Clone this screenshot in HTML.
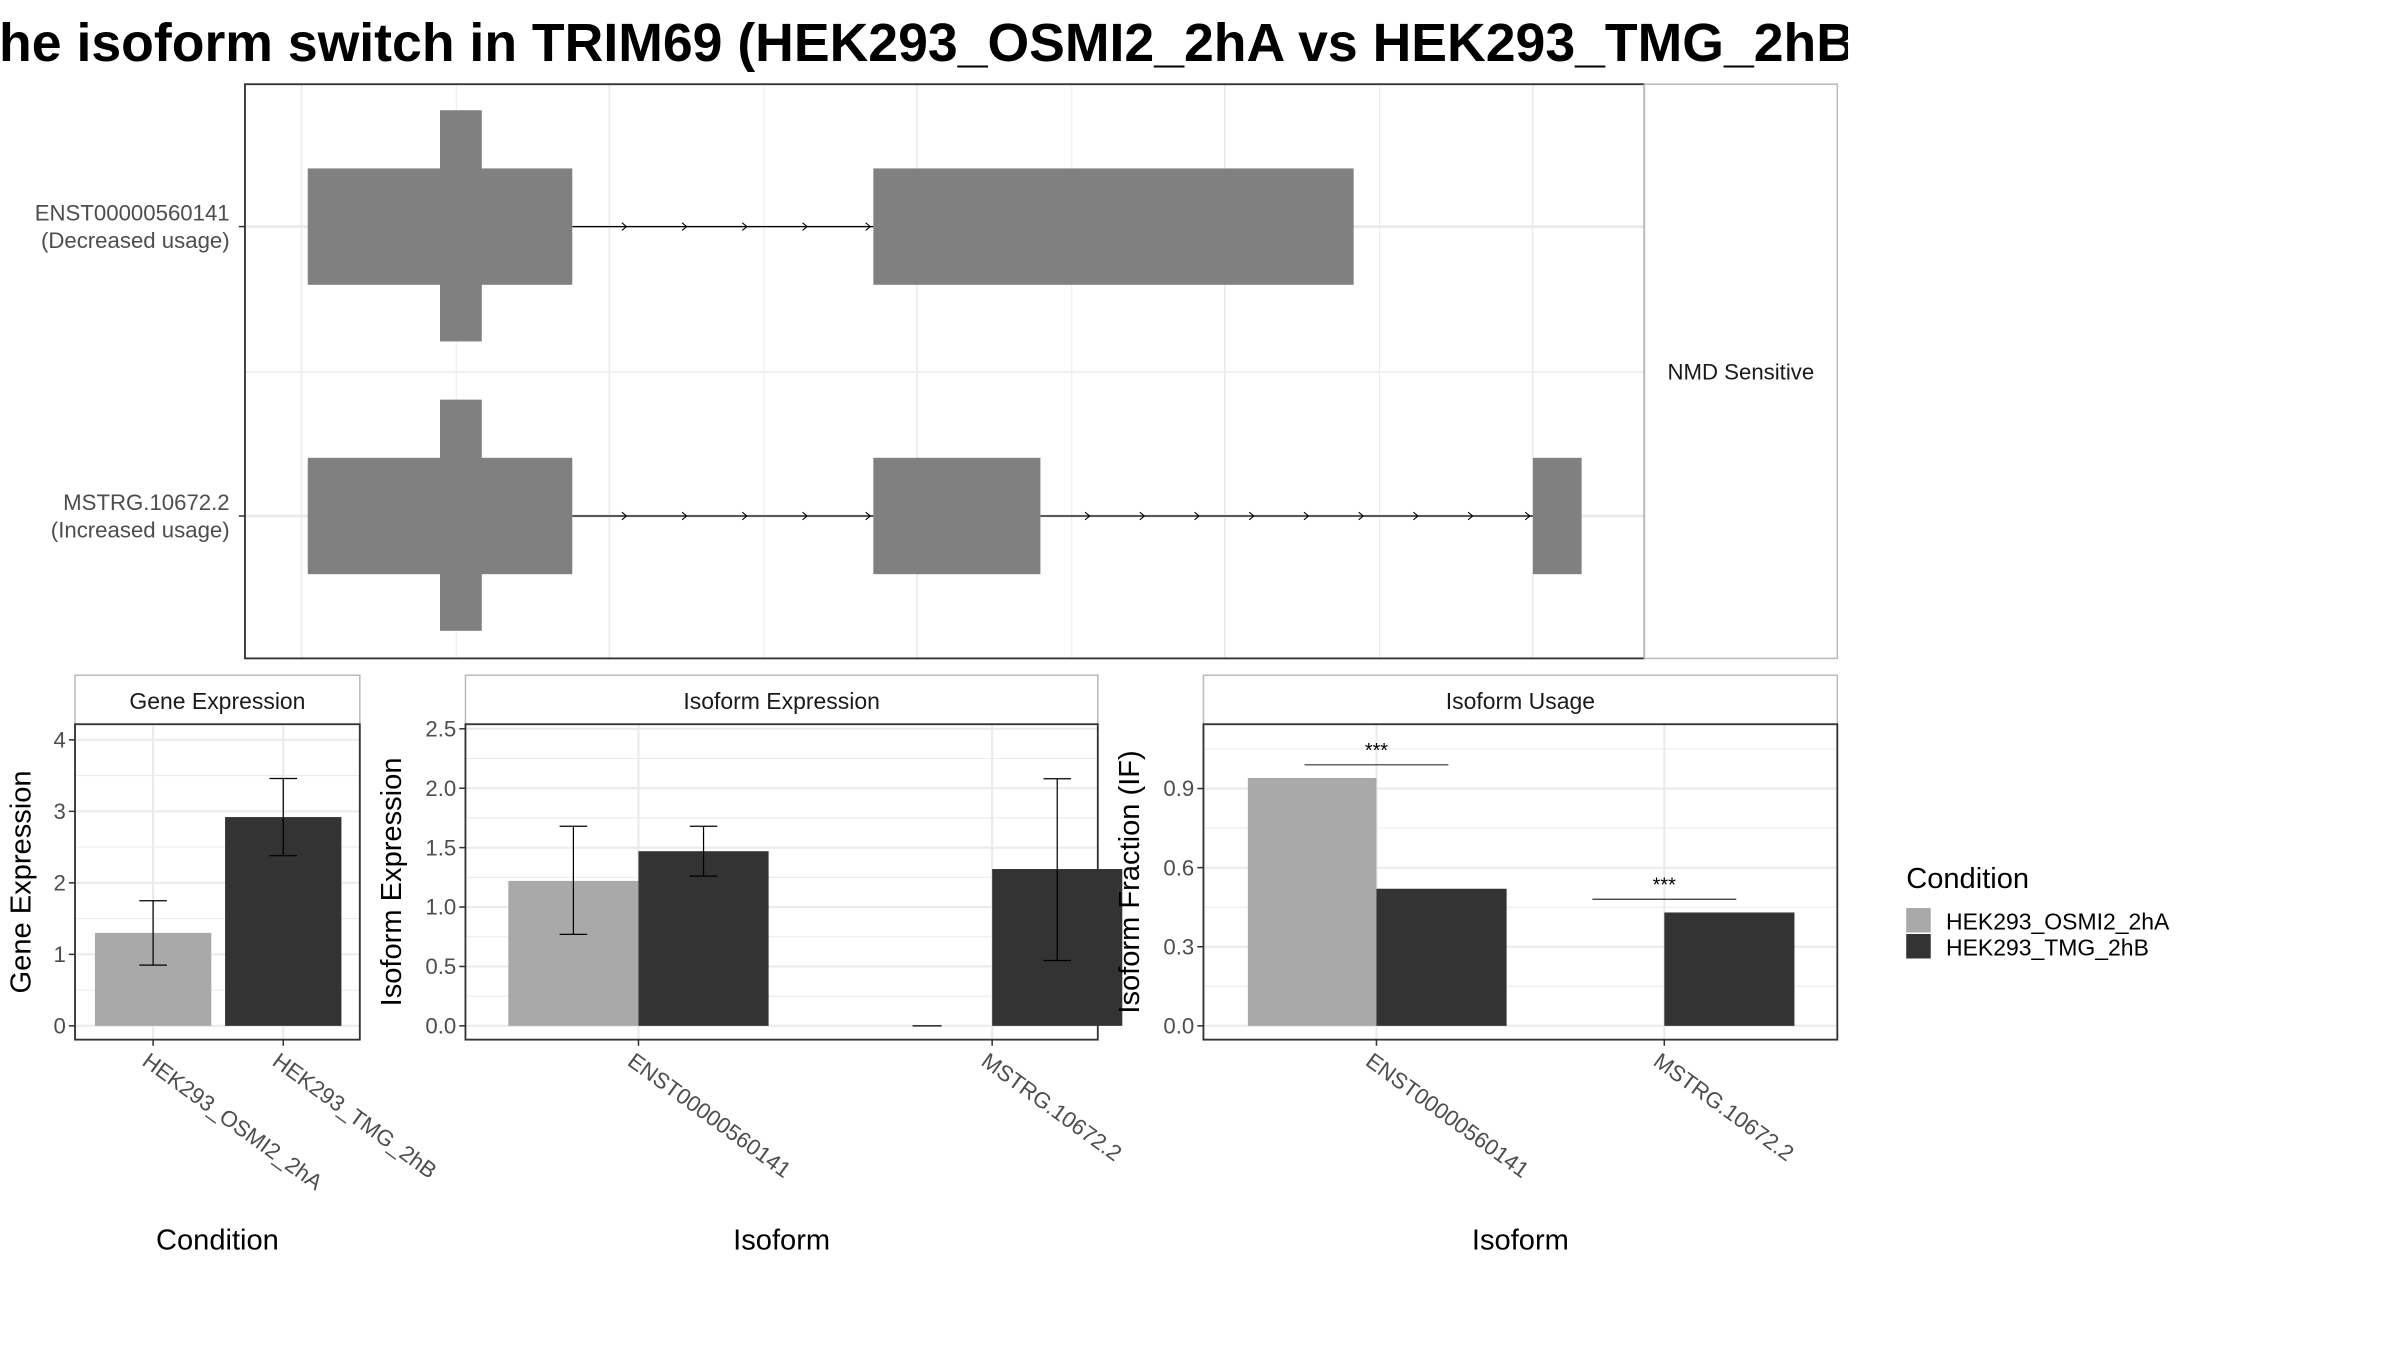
<!DOCTYPE html>
<html><head><meta charset="utf-8"><style>
html,body{margin:0;padding:0;background:#fff;width:2400px;height:1350px;overflow:hidden}
svg{display:block;font-family:"Liberation Sans",Arial,sans-serif}
</style></head><body>
<svg id="fig" width="2400" height="1350" viewBox="0 0 1567.5 881.7" preserveAspectRatio="none" xmlns="http://www.w3.org/2000/svg">
<defs><clipPath id="tclip"><rect x="0" y="0" width="1207" height="60"/></clipPath></defs>
<rect x="0" y="0" width="1567.5" height="881.7" fill="#fff"/>
<g clip-path="url(#tclip)"><text x="-22" y="40" font-size="35" font-weight="bold" fill="#000">The isoform switch in TRIM69 (HEK293_OSMI2_2hA vs HEK293_TMG_2hB)</text></g>
<g id="top"></g>
<g id="gene"></g>
<g id="iso"></g>
<g id="usage"></g>
<g id="legend">
<text x="1245" y="580" font-size="19">Condition</text>
<rect x="1245" y="593" width="16" height="16" fill="#a9a9a9"/>
<rect x="1245" y="610" width="16" height="16" fill="#333333"/>
<text x="1271" y="607" font-size="15">HEK293_OSMI2_2hA</text>
<text x="1271" y="624" font-size="15">HEK293_TMG_2hB</text>
</g>
</svg>
<script>
// ---- data ----
const conditions = ["HEK293_OSMI2_2hA", "HEK293_TMG_2hB"];
const isoforms = ["ENST00000560141", "MSTRG.10672.2"];
const geneExpr = [1.3, 2.92];
const geneErrLo = [0.85, 2.38];
const geneErrHi = [1.75, 3.46];
const geneTicks = [0, 1, 2, 3, 4];
const isoExprOsmi = [1.22, 0.0];
const isoExprTmg = [1.47, 1.32];
const isoErrLoOsmi = [0.77, null];
const isoErrHiOsmi = [1.68, null];
const isoErrLoTmg = [1.26, 0.55];
const isoErrHiTmg = [1.68, 2.08];
const isoTicks = [0.0, 0.5, 1.0, 1.5, 2.0, 2.5];
const usageOsmi = [0.94, 0.0];
const usageTmg = [0.52, 0.43];
const usageTicks = [0.0, 0.3, 0.6, 0.9];
const sigLabels = ["***", "***"];
const sigY = [0.99, 0.48];
// transcript structure (genomic units 0..100)
const trLabels = [["ENST00000560141","(Decreased usage)"],["MSTRG.10672.2","(Increased usage)"]];
const trExons = [[[0,15.2],[32.5,60.1]],[[0,15.2],[32.5,42.1],[70.4,73.2]]];
const trCds = [[[7.6,10]],[[7.6,10]]];
const trNmd = "NMD Sensitive";

const NS = "http://www.w3.org/2000/svg";
function mk(parent, tag, attrs, name, text){
  const el = document.createElementNS(NS, tag);
  for (const k in attrs) el.setAttribute(k, attrs[k]);
  
  
  if (text !== undefined) el.textContent = text;
  parent.appendChild(el);
  return el;
}
const fmt1 = v => v.toFixed(1);

// ---- top panel ----
(function(){
  const g = document.getElementById('top');
  const L=160,T=55,R=1074,B=430;
  const gx = v => 201 + v*(1033-201)/73.2;
  mk(g,'rect',{x:L,y:T,width:R-L,height:B-T,fill:'#fff'},'plot-background');
  [197,298,398,499,599,700,800,901,1001].forEach((x,i)=>mk(g,'line',{x1:x,x2:x,y1:T,y2:B,stroke:'#ebebeb','stroke-width':i%2?0.6:1.1},'grid-v'));
  mk(g,'line',{x1:L,x2:R,y1:243,y2:243,stroke:'#ebebeb','stroke-width':1.1},'grid-h');
  const yc=[148,337];
  yc.forEach((y,i)=>{
    mk(g,'line',{x1:L,x2:R,y1:y,y2:y,stroke:'#ebebeb','stroke-width':2},'grid-h');
    const ex = trExons[i];
    for(let j=0;j<ex.length-1;j++){
      const a=gx(ex[j][1]), b=gx(ex[j+1][0]);
      mk(g,'line',{x1:a,x2:b,y1:y,y2:y,stroke:'#000','stroke-width':0.8},'intron-line');
      const n=Math.max(1,Math.round((b-a)/37));
      for(let k=1;k<=n;k++){
        const ax = a+(b-a)*k/n - (k===n?2:0) - (k<n? (b-a)/n*0.1:0);
        mk(g,'path',{d:`M${ax-3} ${y-2.5} L${ax} ${y} L${ax-3} ${y+2.5}`,fill:'none',stroke:'#000','stroke-width':0.7},'intron-arrow');
      }
    }
    ex.forEach(e=>mk(g,'rect',{x:gx(e[0]),y:y-38,width:gx(e[1])-gx(e[0]),height:76,fill:'#808080'},'exon'));
    trCds[i].forEach(e=>mk(g,'rect',{x:gx(e[0]),y:y-76,width:gx(e[1])-gx(e[0]),height:151,fill:'#808080'},'cds-marker'));
    mk(g,'line',{x1:L-4,x2:L,y1:y,y2:y,stroke:'#333'},'y-tick');
    mk(g,'text',{x:150,y:y-4,'font-size':14.5,fill:'#4d4d4d','text-anchor':'end'},'transcript-label',trLabels[i][0]);
    mk(g,'text',{x:150,y:y+14,'font-size':14.5,fill:'#4d4d4d','text-anchor':'end'},'transcript-usage-label',trLabels[i][1]);
  });
  mk(g,'rect',{x:L,y:T,width:R-L,height:B-T,fill:'none',stroke:'#333','stroke-width':1.2},'plot-border');
  mk(g,'rect',{x:R,y:T,width:1200-R,height:B-T,fill:'#fff',stroke:'#bbb','stroke-width':1},'facet-strip');
  mk(g,'text',{x:1137,y:248,'font-size':14.5,fill:'#1a1a1a','text-anchor':'middle'},'strip-label',trNmd);
})();

// ---- bar panels ----
function panel(id, L, R, title, ticks, y0, yTop, vTop, cats, catX, ytitle, ytitleX, xtitle, tickFmt){
  const g = document.getElementById(id);
  const T=473,B=679;
  const sy = v => y0 - (v/vTop)*(y0-yTop);
  mk(g,'rect',{x:L,y:441,width:R-L,height:32,fill:'#fff',stroke:'#bbb'},'facet-strip');
  mk(g,'text',{x:(L+R)/2,y:463,'font-size':15,fill:'#1a1a1a','text-anchor':'middle'},'strip-label',title);
  const step = ticks[1]-ticks[0];
  for(let v=ticks[0]+step/2; sy(v)>T; v+=step) mk(g,'line',{x1:L,x2:R,y1:sy(v),y2:sy(v),stroke:'#ebebeb','stroke-width':0.7},'grid-minor');
  ticks.forEach(v=>{
    mk(g,'line',{x1:L,x2:R,y1:sy(v),y2:sy(v),stroke:'#ebebeb','stroke-width':1.4},'grid-major');
    mk(g,'line',{x1:L-4,x2:L,y1:sy(v),y2:sy(v),stroke:'#333'},'y-tick');
    mk(g,'text',{x:L-6,y:sy(v)+5,'font-size':14.5,fill:'#4d4d4d','text-anchor':'end'},'y-tick-label',tickFmt(v));
  });
  catX.forEach((x,i)=>{
    mk(g,'line',{x1:x,x2:x,y1:T,y2:B,stroke:'#ebebeb','stroke-width':1.4},'grid-v');
    mk(g,'line',{x1:x,x2:x,y1:B,y2:B+4,stroke:'#333'},'x-tick');
    mk(g,'text',{x:x-8,y:B+16,'font-size':14.5,fill:'#4d4d4d',transform:`rotate(36 ${x-8} ${B+16})`},'x-tick-label',cats[i]);
  });
  mk(g,'text',{x:ytitleX,y:576,'font-size':19,fill:'#000','text-anchor':'middle',transform:`rotate(-90 ${ytitleX} 576)`},'y-axis-title',ytitle);
  mk(g,'text',{x:(L+R)/2,y:816,'font-size':19,fill:'#000','text-anchor':'middle'},'x-axis-title',xtitle);
  return {g,sy,T,B,L,R};
}
function bar(p,x,w,v,color,name){ mk(p.g,'rect',{x:x,y:p.sy(v),width:w,height:p.sy(0)-p.sy(v),fill:color},name); }
function err(p,x,lo,hi){
  mk(p.g,'line',{x1:x,x2:x,y1:p.sy(lo),y2:p.sy(hi),stroke:'#000','stroke-width':0.8},'error-bar');
  [lo,hi].forEach(v=>mk(p.g,'line',{x1:x-9,x2:x+9,y1:p.sy(v),y2:p.sy(v),stroke:'#000','stroke-width':0.8},'error-cap'));
}
function border(p){ mk(p.g,'rect',{x:p.L,y:p.T,width:p.R-p.L,height:p.B-p.T,fill:'none',stroke:'#333','stroke-width':1.2},'plot-border'); }

// gene expression
(function(){
  const p = panel('gene',49,235,'Gene Expression',geneTicks,670,483.2,4,conditions,[100,185],'Gene Expression',20,'Condition',v=>String(v));
  const cx=[100,185], cols=['#a9a9a9','#333333'];
  geneExpr.forEach((v,i)=>{ bar(p,cx[i]-38,76,v,cols[i],'bar-'+conditions[i]); err(p,cx[i],geneErrLo[i],geneErrHi[i]); });
  border(p);
})();
// isoform expression
(function(){
  const p = panel('iso',304,717,'Isoform Expression',isoTicks,670,476,2.5,isoforms,[417,648],'Isoform Expression',262,'Isoform',fmt1);
  const cx=[417,648];
  isoforms.forEach((n,i)=>{
    bar(p,cx[i]-85,85,isoExprOsmi[i],'#a9a9a9','bar-osmi2-'+n);
    bar(p,cx[i],85,isoExprTmg[i],'#333333','bar-tmg-'+n);
    if(isoErrLoOsmi[i]!==null) err(p,cx[i]-42.5,isoErrLoOsmi[i],isoErrHiOsmi[i]);
    else mk(p.g,'line',{x1:cx[i]-52,x2:cx[i]-33,y1:p.sy(0),y2:p.sy(0),stroke:'#000','stroke-width':0.8},'error-bar-zero');
    err(p,cx[i]+42.5,isoErrLoTmg[i],isoErrHiTmg[i]);
  });
  border(p);
})();
// isoform usage
(function(){
  const p = panel('usage',786,1200,'Isoform Usage',usageTicks,670,515,0.9,isoforms,[899,1087],'Isoform Fraction (IF)',744,'Isoform',fmt1);
  const cx=[899,1087];
  isoforms.forEach((n,i)=>{
    if(usageOsmi[i]>0) bar(p,cx[i]-84,84,usageOsmi[i],'#a9a9a9','bar-osmi2-'+n);
    bar(p,cx[i],85,usageTmg[i],'#333333','bar-tmg-'+n);
    mk(p.g,'line',{x1:cx[i]-47,x2:cx[i]+47,y1:p.sy(sigY[i]),y2:p.sy(sigY[i]),stroke:'#333','stroke-width':0.8},'significance-line');
    mk(p.g,'text',{x:cx[i],y:p.sy(sigY[i])-5,'font-size':13,'text-anchor':'middle',fill:'#000'},'significance-label',sigLabels[i]);
  });
  border(p);
})();
</script>
</body></html>
